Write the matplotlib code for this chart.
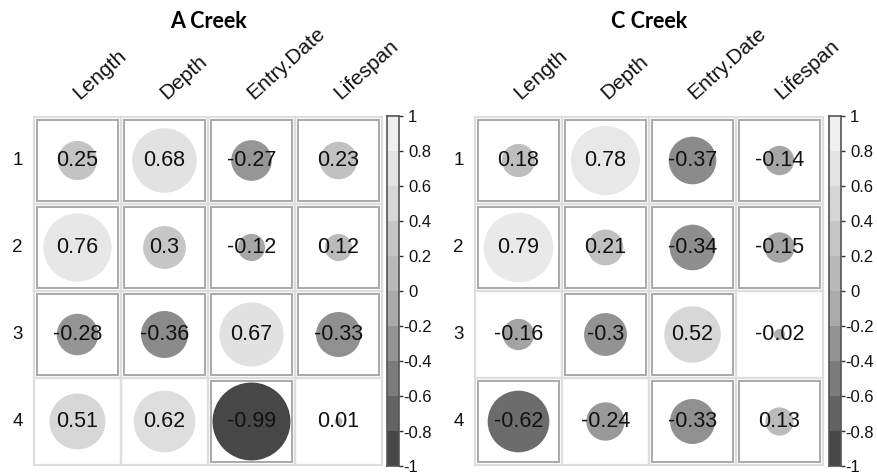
import numpy as np
import matplotlib
matplotlib.use("Agg")
import matplotlib.pyplot as plt
from matplotlib.patches import Circle, Rectangle
from matplotlib.colors import LinearSegmentedColormap, ListedColormap, BoundaryNorm
import matplotlib.transforms as mtransforms

plt.rcParams['font.family'] = ['Liberation Sans', 'DejaVu Sans']

# Daten
variables = ["Length", "Depth", "Entry.Date", "Lifespan"]
rows = ["1", "2", "3", "4"]

a_creek = np.array([[0.25, 0.68, -0.27, 0.23],
                    [0.76, 0.30, -0.12, 0.12],
                    [-0.28, -0.36, 0.67, -0.33],
                    [0.51, 0.62, -0.99, 0.01]])
a_labels = [["0.25", "0.68", "-0.27", "0.23"],
            ["0.76", "0.3", "-0.12", "0.12"],
            ["-0.28", "-0.36", "0.67", "-0.33"],
            ["0.51", "0.62", "-0.99", "0.01"]]
# True = Zelle mit dunklem Rahmen
a_box = np.array([[1, 1, 1, 1],
                  [1, 1, 1, 1],
                  [1, 1, 1, 1],
                  [0, 0, 1, 0]], dtype=bool)

c_creek = np.array([[0.18, 0.78, -0.37, -0.14],
                    [0.79, 0.21, -0.34, -0.15],
                    [-0.16, -0.30, 0.52, -0.02],
                    [-0.62, -0.24, -0.33, 0.13]])
c_labels = [["0.18", "0.78", "-0.37", "-0.14"],
            ["0.79", "0.21", "-0.34", "-0.15"],
            ["-0.16", "-0.3", "0.52", "-0.02"],
            ["-0.62", "-0.24", "-0.33", "0.13"]]
c_box = np.array([[1, 1, 1, 1],
                  [1, 1, 1, 1],
                  [0, 1, 1, 0],
                  [1, 0, 1, 1]], dtype=bool)

cbar_ticks = [1, 0.8, 0.6, 0.4, 0.2, 0, -0.2, -0.4, -0.6, -0.8, -1]

# Grauwerte der 10 Stufen (von -1 nach 1)
bin_colors = ["#474747", "#636363", "#7b7b7b", "#939393", "#aaaaaa",
              "#b9b9b9", "#c6c6c6", "#d6d6d6", "#e3e3e3", "#efefef"]
bin_mid = np.linspace(-0.9, 0.9, 10)
circ_cmap = LinearSegmentedColormap.from_list(
    "grey_c", [((m + 0.9) / 1.8, c) for m, c in zip(bin_mid, bin_colors)])

W, H = 877, 476
fig = plt.figure(figsize=(W / 100, H / 100), dpi=100)


def px(x0, y_top, w, h):
    # Pixel -> figure coords
    return [x0 / W, 1 - (y_top + h) / H, w / W, h / H]


def draw_panel(x0, cbx, data, labels, boxed, title):
    ax = fig.add_axes(px(x0, 117, 348, 348))
    ax.set_xlim(0, 4)
    ax.set_ylim(4, 0)
    ax.axis("off")
    for i in range(4):
        for j in range(4):
            ax.add_patch(Rectangle((j, i), 1, 1, fill=False, ec="#dedede", lw=1.6, clip_on=False))
            if boxed[i, j]:
                ax.add_patch(Rectangle((j + 0.04, i + 0.04), 0.92, 0.92, fill=False,
                                       ec="#a9a9a9", lw=1.4))
            v = data[i, j]
            col = circ_cmap(np.clip((v + 0.9) / 1.8, 0, 1))
            ax.add_patch(Circle((j + 0.5, i + 0.5), 0.45 * np.sqrt(abs(v)), fc=col, ec="none"))
            ax.text(j + 0.5, i + 0.5, labels[i][j], ha="center", va="center",
                    fontsize=15.5, color="#111111")
    for i, r in enumerate(rows):
        ax.text(-0.19, i + 0.5, r, ha="center", va="center", fontsize=13.5, color="#111111")
    for j, name in enumerate(variables):
        ax.text(j + 0.52, -0.19, name, rotation=42, rotation_mode="anchor",
                ha="left", va="baseline", fontsize=15, color="#111111")
    fig.text((x0 + 174) / W, 1 - 21 / H, title, family=["Lato", "DejaVu Sans"],
             fontweight="bold", fontsize=15.5, ha="center", va="center")

    # Farbskala
    cax = fig.add_axes(px(cbx, 116, 12, 350))
    edges = np.linspace(-1, 1, 11)
    cax.pcolormesh([0, 1], edges, np.array(bin_mid).reshape(-1, 1),
                   cmap=ListedColormap(bin_colors), norm=BoundaryNorm(edges, 10))
    cax.set_xlim(0, 1)
    cax.set_ylim(-1, 1)
    cax.set_xticks([])
    cax.yaxis.tick_right()
    cax.set_yticks(cbar_ticks)
    cax.set_yticklabels([])
    cax.tick_params(axis="y", length=3, width=1, color="#333333", direction="out")
    for s in cax.spines.values():
        s.set_color("#555555")
        s.set_linewidth(1.2)
    trans = mtransforms.blended_transform_factory(fig.transFigure, cax.transData)
    for t in cbar_ticks:
        shift = -5 / 100 if t < 0 else 0
        off = mtransforms.ScaledTranslation(shift, -2 / 100, fig.dpi_scale_trans)
        cax.text((cbx + 21) / W, t, "%g" % t, transform=trans + off,
                 ha="left", va="center", fontsize=12, color="#111111")


draw_panel(34, 387, a_creek, a_labels, a_box, "A Creek")
draw_panel(475, 829, c_creek, c_labels, c_box, "C Creek")

plt.savefig("out.png", dpi=100)
